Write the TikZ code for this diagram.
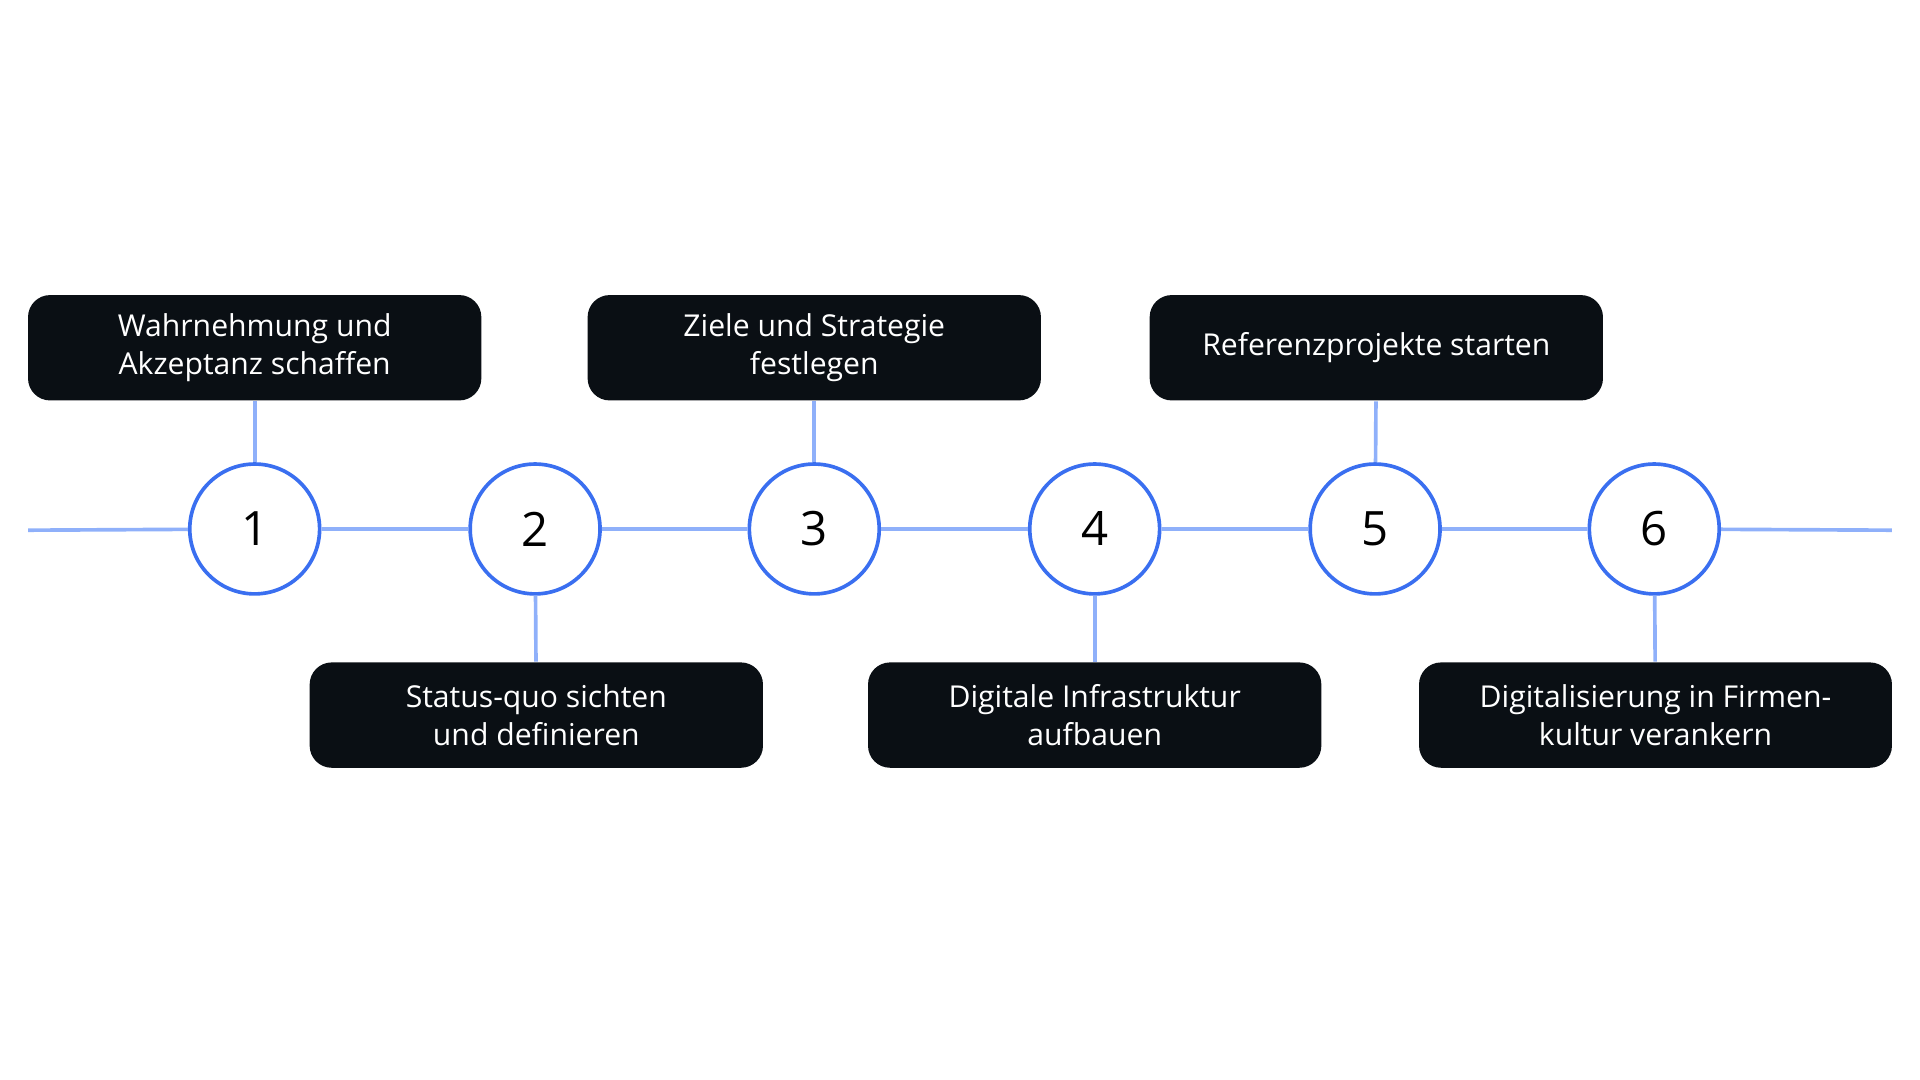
\documentclass[tikz,border=0pt]{standalone}
\usepackage{fontspec}
\setmainfont{Open Sans}
\definecolor{linkblue}{HTML}{8FB0FA}
\definecolor{ringblue}{HTML}{3A6FF0}
\definecolor{boxblack}{HTML}{0A0F14}
\tikzset{
  phase/.style={circle, draw=ringblue, line width=0.85pt, fill=white, minimum size=1.06cm, inner sep=0pt, font=\fontsize{11pt}{13pt}\selectfont},
  task/.style={rounded corners=0.18cm, fill=boxblack, text=white, minimum width=3.7cm, minimum height=0.86cm, align=center, font=\fontsize{7pt}{8.8pt}\selectfont},
  link/.style={draw=linkblue, line width=0.85pt}
}
\begin{document}
\begin{tikzpicture}[x=0.01cm,y=-0.01cm]
  \useasboundingbox (0,0) rectangle (1568,882);
  \coordinate (start) at (23,433);
  \coordinate (end) at (1545,433);
  % phases
  \node[phase] (s1) at (208,432) {1};
  \node[phase] (s2) at (437,432) {2};
  \node[phase] (s3) at (665,432) {3};
  \node[phase] (s4) at (894,432) {4};
  \node[phase] (s5) at (1123,432) {5};
  \node[phase] (s6) at (1351,432) {6};
  % tasks
  \node[task] (t1) at (208,284) {Wahrnehmung und\\Akzeptanz schaffen};
  \node[task] (t2) at (438,584) {Status-quo sichten\\und definieren};
  \node[task] (t3) at (665,284) {Ziele und Strategie\\festlegen};
  \node[task] (t4) at (894,584) {Digitale Infrastruktur\\aufbauen};
  \node[task] (t5) at (1124,284) {Referenzprojekte starten};
  \node[task, minimum width=3.86cm] (t6) at (1352,584) {Digitalisierung in Firmen-\\kultur verankern};
  % line
  \draw[link] (start) -- (s1) -- (s2) -- (s3) -- (s4) -- (s5) -- (s6) -- (end);
  \foreach \i in {1,...,6}
    \draw[link] (t\i) -- (s\i);
\end{tikzpicture}
\end{document}
